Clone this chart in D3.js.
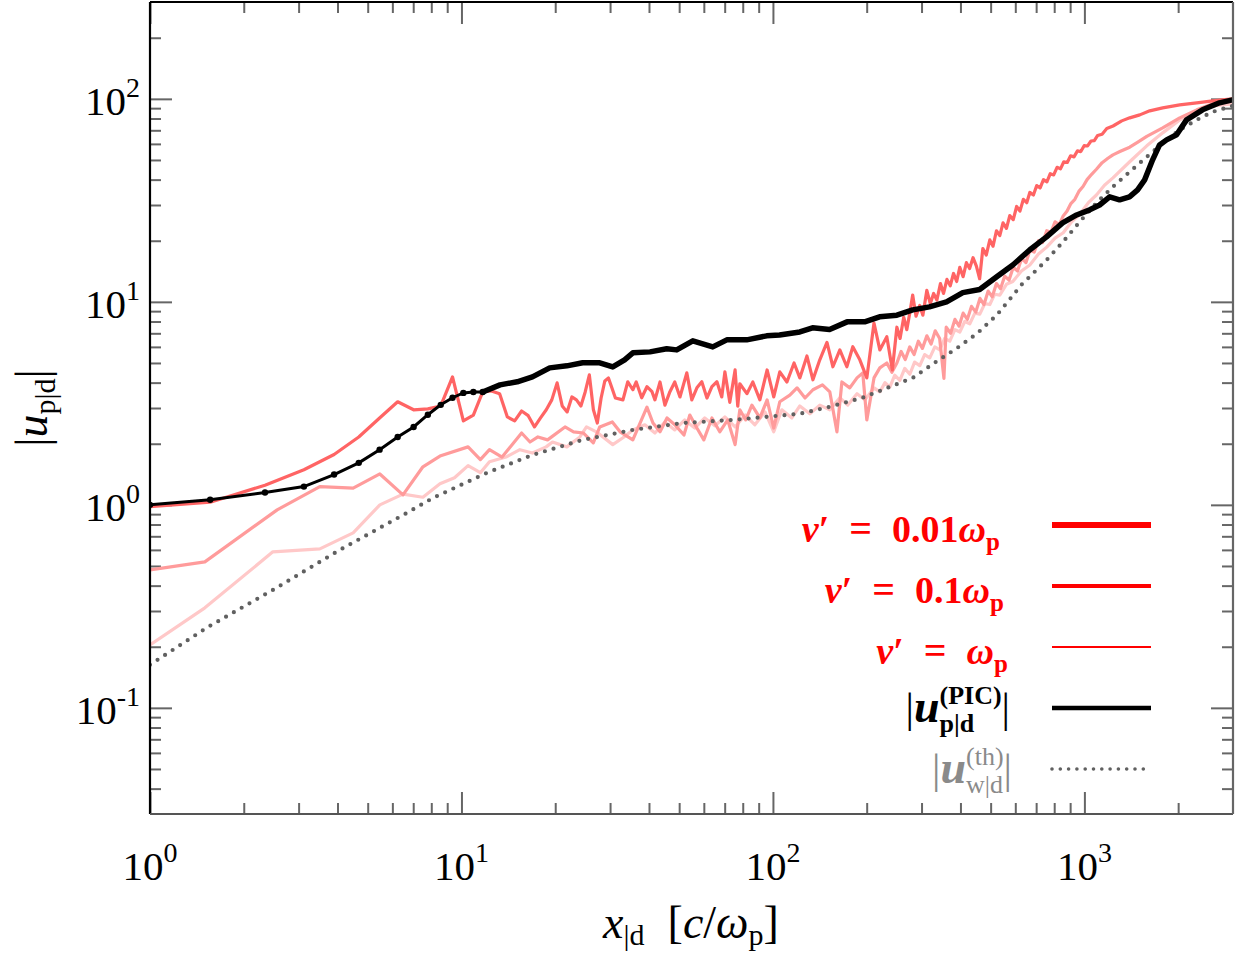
<!DOCTYPE html>
<html>
<head>
<meta charset="utf-8">
<script src="https://cdn.jsdelivr.net/npm/d3@7"></script>
<style>
  body { margin: 0; background: #fff; }
  text { font-family: "Liberation Serif", "DejaVu Serif", serif; }
</style>
</head>
<body>
<script>
// ---- data ----
// PIC particle velocity |u_p|d|
var pic_x = [1, 1.56, 2.34, 3.12, 3.9, 4.68, 5.46, 6.24, 7.02, 7.8, 8.58, 9.36, 10.14, 10.92, 11.7,
  13.3, 15.1, 16.9, 19.2, 21.8, 24.5, 27.8, 30.6, 33.4, 35.5, 40.3, 45.6, 49.1, 55.3, 64.1, 71.1, 82.4, 95.5,
  105, 122, 134, 152, 173, 197, 220, 250, 281, 318, 361, 407, 461, 523, 589, 667, 756, 851, 944, 1040,
  1119, 1205, 1297, 1396, 1482, 1561, 1656, 1743, 1836, 1977, 2128, 2395, 2716, 2990];
var pic_y = [1.0, 1.06, 1.15, 1.23, 1.41, 1.61, 1.87, 2.16, 2.42, 2.78, 3.11, 3.37, 3.56, 3.6, 3.6,
  3.90, 4.04, 4.27, 4.73, 4.84, 5.01, 5.01, 4.78, 5.18, 5.61, 5.67, 5.87, 5.80, 6.43, 6.00, 6.50, 6.50, 6.80,
  6.87, 7.11, 7.45, 7.3, 7.97, 7.97, 8.44, 8.6, 9.13, 9.45, 10.0, 11.1, 11.5, 13.3, 15.2, 18.0, 20.9, 24.5, 26.8, 28.4,
  30.0, 32.9, 31.8, 32.9, 35.6, 39.9, 50.1, 59.3, 62.8, 66.5, 78.8, 88.3, 95.6, 98.9];

// theory |u_w|d^(th)|
var th_x = [1, 1.52, 2.48, 4.07, 6.68, 8.09, 12.1, 16.9, 24.5, 35.5, 51.4, 74.3, 122, 152, 194, 237, 281,
  336, 389, 453, 523, 576, 630, 700, 757, 855, 966, 1093, 1235, 1398, 1586, 1784, 2023, 2295, 2583, 2990];
var th_y = [0.163, 0.248, 0.381, 0.600, 0.913, 1.08, 1.44, 1.76, 2.09, 2.34, 2.53, 2.62, 2.81, 3.04, 3.37, 3.81, 4.22,
  5.1, 5.9, 7.0, 8.6, 10.3, 12.2, 14.3, 16.1, 19.8, 24.8, 30.7, 36.9, 43.7, 51.8, 60.4, 70.3, 78.8, 86.3, 92.4];

// nu' = 0.01 omega_p
var nu001_x = [1, 1.56, 2.34, 3.12, 3.9, 4.68, 5.46, 6.24, 7.02, 7.8, 8.58, 9.36, 10.14, 10.92, 11.7, 12.48, 13.26,
  14.04, 14.82, 15.6, 16.38, 17.16, 17.94, 18.72, 19.5, 20.28, 21.06, 21.84, 22.62, 23.4, 24.18, 24.96, 25.74,
  26.52, 27.3, 28.08, 28.86, 29.64, 30.42, 31.2, 33.0, 34.2, 35.5, 36.4, 37.9, 39.4, 40.9, 41.8, 43.4, 45.0,
  46.7, 48.4, 50.3, 52.9, 54.9, 57.0, 59.1, 61.4, 63.7, 66.1, 68.5, 70.1, 72.7, 75.6, 77.1, 78.3, 82.5, 86.2,
  90.8, 95.8, 100.6, 105.2, 110.9, 116.9, 122, 128.6, 134.4, 141.4, 149.1, 155.8, 164, 172.7, 180.5, 190.1,
  200.2, 211.1, 220.4, 232.1, 241.8,
  250, 256, 263, 269, 275, 281, 288, 296, 303, 312, 320, 328, 336, 345, 353, 362, 371, 380, 389, 398, 408,
  418, 428, 439, 450, 461, 472, 484, 497, 509, 522, 535, 548, 562, 576, 591, 606, 621, 637, 653, 668, 686,
  703, 721, 739, 758, 777, 797, 817, 838, 859, 881, 903, 926, 950, 974, 998, 1024, 1050, 1076, 1103, 1140,
  1180, 1236, 1318, 1398, 1506, 1621, 1784, 2023, 2295, 2583, 2990];
var nu001_y = [0.98, 1.03, 1.25, 1.49, 1.77, 2.16, 2.68, 3.22, 2.94, 2.97, 3.07, 4.27, 2.59, 2.77, 3.60, 3.64, 3.53,
  2.71, 2.59, 2.90, 2.75, 2.42, 2.68, 2.94, 3.29, 3.99, 3.07, 2.87, 3.40, 3.29, 3.07, 3.60, 4.37,
  2.94, 2.53, 3.36, 4.08, 4.22, 3.76, 3.36, 3.29, 4.04, 3.69, 4.03, 3.37, 3.82, 3.61, 3.29, 4.03, 3.10,
  3.61, 4.03, 3.40, 4.47, 3.29, 3.77, 4.04, 3.36, 3.82, 4.04, 3.40, 4.52, 3.20, 4.62, 3.06, 3.95, 3.53, 4.03,
  3.29, 4.62, 3.40, 4.52, 4.03, 5.0, 4.22, 5.41, 4.13, 5.18, 6.31, 4.79, 5.80, 4.79, 6.01, 5.18,
  4.22, 7.87, 5.80, 6.73, 4.62,
  7.5, 6.6, 8.4, 7.3, 8.8, 10.8, 8.5, 9.6, 8.6, 11.4, 9.8, 11.0, 10.2, 12.3, 11.0, 12.9, 12.0, 13.8, 12.6, 14.8, 13.3,
  15.6, 14.6, 16.5, 15.0, 13.0, 18.3, 17.0, 20.2, 18.8, 22.4, 21.2, 24.5, 23.0, 26.6, 25.4, 29.5, 28.0, 32.0, 30.8, 34.6, 33.6,
  37.4, 36.4, 40.0, 39.0, 42.8, 42.2, 46.0, 45.2, 49.0, 48.6, 52.4, 51.8, 55.4, 55.0, 58.8, 58.6, 62.0, 62.2, 66.0, 67.0,
  71.5, 73.5, 77.9, 80.6, 83.4, 87.3, 90.3, 93.4, 95.6, 97.8, 100];

// nu' = 0.1 omega_p
var nu01_x = [1, 1.50, 2.56, 3.51, 4.49, 5.47, 6.49, 7.52, 8.53, 10.5, 11.5, 12.3, 13.5, 15.6, 16.6, 17.6, 18.9,
  21.5, 22.9, 24.6, 26.5, 27.8, 30.5, 32.3, 35.5, 39.4, 41.2, 43.4, 45.7, 48.4, 51.8, 54.1, 57.0, 60.0, 63.7,
  67.5, 71.6, 75.6, 78.3, 81.8, 85.6, 90.8, 95.8, 100.6, 105.2, 113.3, 119.5, 126.8, 134.4, 144.2, 152.3,
  160.5, 166.5, 176.5, 186.2, 194.3, 200.2, 211.1, 220.4, 232.1, 241,
  250, 258, 266, 275, 284, 293, 302, 312, 322, 332, 343, 354, 360, 372, 384, 396, 408, 421, 434, 448, 462,
  476, 491, 506, 522, 538, 555, 573, 591, 610, 629, 649, 669, 690, 712, 734, 757, 781, 805, 830, 855, 880,
  905, 932, 960, 990, 1020, 1055, 1093, 1140, 1190, 1235, 1300, 1398, 1480, 1586, 1784, 2023, 2295, 2583, 2990];
var nu01_y = [0.478, 0.524, 0.945, 1.23, 1.21, 1.42, 1.12, 1.54, 1.74, 1.93, 1.67, 1.87, 1.72, 2.26, 2.04, 2.16, 2.09,
  2.42, 2.29, 2.26, 2.02, 2.42, 2.56, 2.29, 2.09, 3.03, 2.53, 2.29, 2.68, 2.48, 2.21, 2.77, 2.39, 2.09, 2.68,
  2.29, 2.62, 1.98, 2.94, 2.62, 3.10, 2.68, 3.29, 2.39, 3.22, 3.47, 3.77, 3.36, 3.69, 3.90, 3.60,
  2.29, 4.03, 3.77, 4.22, 4.47, 2.62, 4.22, 4.73, 5.0, 4.5,
  5.0, 5.7, 5.2, 6.0, 5.5, 6.4, 5.9, 6.8, 6.2, 7.2, 6.6, 4.2, 7.5, 7.0, 8.2, 7.6, 8.8, 8.2, 9.5, 8.9, 10.4,
  9.7, 11.3, 10.6, 12.3, 11.6, 13.4, 12.8, 14.8, 14.2, 16.4, 15.6, 18.0, 17.6, 20.0, 19.6, 22.4, 22.0, 24.8, 24.0, 26.5, 28.0,
  30.5, 32.0, 35.0, 37.0, 40.0, 42.5, 45.0, 48.5, 51.0, 53.0, 55.0, 57.8, 61.0, 65.3, 72.0, 80.6, 88.3, 94.5, 97.8];

// nu' = omega_p
var nu1_x = [1, 1.50, 2.48, 3.51, 4.49, 5.47, 6.49, 7.52, 8.53, 9.5, 10.5, 11.5, 12.3, 13.9, 15.4, 16.9, 18.7,
  19.6, 21.8, 24.0, 25.2, 27.1, 30.6, 33.0, 35.5, 38.8, 41.8, 45.0, 48.4, 52.1, 56.1, 60.4, 65.1, 70.1, 75.6,
  81.5, 87.5, 94.3, 100.6, 106.8, 115.0, 122.0, 131.4, 141.4, 152.3, 164.0, 173.9, 186.2, 197.4, 211.1,
  220.4, 229, 237.3, 246, 255.5, 265, 275.1, 285, 296.2, 307, 318.9, 331, 343.4, 356, 369.7, 384, 398.1, 413,
  428.6, 445, 461.5, 479, 496.9, 515, 535, 562, 589, 628, 668, 712, 757, 805, 855, 910, 966, 1030, 1093,
  1160, 1235, 1398, 1586, 1784, 2023, 2295, 2583, 2990];
var nu1_y = [0.204, 0.311, 0.587, 0.607, 0.728, 1.0, 1.13, 1.09, 1.27, 1.36, 1.56, 1.44, 1.63, 1.72, 1.87, 1.80, 1.93,
  2.04, 1.93, 2.16, 2.42, 2.29, 1.98, 2.14, 2.34, 2.48, 2.26, 2.56, 2.34, 2.62, 2.39, 2.68, 2.45, 2.71, 2.42,
  2.77, 2.48, 2.87, 2.29, 2.94, 2.68, 3.07, 2.81, 3.10, 2.94, 3.37, 3.10, 3.53, 3.29, 3.77,
  3.60, 4.0, 3.8, 4.35, 4.1, 4.7, 4.4, 5.05, 4.85, 5.5, 5.3, 6.0, 5.8, 6.6, 6.4, 7.3, 7.1, 8.0,
  7.8, 8.8, 8.7, 9.8, 9.7, 10.9, 10.8, 12.2, 12.6, 14.2, 15.2, 17.2, 18.6, 20.6, 21.9, 24.8, 27.0, 30.8, 33.6,
  37.5, 40.8, 49.0, 58.7, 68.0, 78.8, 86.3, 92.4, 94.5];

var xMajor = [1, 10, 100, 1000];
var xMinor = [2, 3, 4, 5, 6, 7, 8, 9, 20, 30, 40, 50, 60, 70, 80, 90, 200, 300, 400, 500, 600, 700, 800, 900, 2000];
var yMajor = [0.1, 1, 10, 100];
var yMinor = [0.04, 0.05, 0.06, 0.07, 0.08, 0.09, 0.2, 0.3, 0.4, 0.5, 0.6, 0.7, 0.8, 0.9,
  2, 3, 4, 5, 6, 7, 8, 9, 20, 30, 40, 50, 60, 70, 80, 90, 200];

// ---- layout ----
var svgWidth = 1236, svgHeight = 957;
var plot = { left: 150, right: 1233, top: 2, bottom: 814 };

var svg = d3.select("body").append("svg")
  .attr("width", svgWidth)
  .attr("height", svgHeight);

var x = d3.scaleLog().domain([1, 3000]).range([plot.left, plot.right]);
var y = d3.scaleLog().domain([0.03, 300]).range([plot.bottom, plot.top]);

// small helper: lays out pieces of "math" text left to right, measuring each one
function mathText(parent, pieces, px, py, anchor, color) {
  var g = parent.append("g");
  var cx = 0, pending = 0;
  pieces.forEach(function (p) {
    var t = g.append("text")
      .attr("x", cx)
      .attr("y", p.dy || 0)
      .attr("font-size", p.size)
      .attr("font-style", p.italic ? "italic" : "normal")
      .attr("font-weight", p.bold ? "bold" : "normal")
      .attr("fill", p.color || color)
      .text(p.t);
    var w = t.node().getComputedTextLength();
    if (p.stack) { pending = w; }
    else { cx += Math.max(w, pending); pending = 0; }
  });
  var shift = anchor === "end" ? -cx : anchor === "middle" ? -cx / 2 : 0;
  g.attr("transform", "translate(" + (px + shift) + "," + py + ")");
  return g;
}

// ---- ticks (inward, on all four sides) ----
function tickGroup(axis, tx, ty) {
  var g = svg.append("g").attr("transform", "translate(" + tx + "," + ty + ")").call(axis);
  g.select(".domain").remove();
  g.selectAll("line").attr("stroke", "#666").attr("stroke-width", 2);
  g.selectAll("text").remove();
}
var majLen = 22, minLen = 11;
tickGroup(d3.axisBottom(x).tickValues(xMajor).tickSize(-majLen), 0, plot.bottom);
tickGroup(d3.axisBottom(x).tickValues(xMinor).tickSize(-minLen), 0, plot.bottom);
tickGroup(d3.axisTop(x).tickValues(xMajor).tickSize(-majLen), 0, plot.top);
tickGroup(d3.axisTop(x).tickValues(xMinor).tickSize(-minLen), 0, plot.top);
tickGroup(d3.axisLeft(y).tickValues(yMajor).tickSize(-majLen), plot.left, 0);
tickGroup(d3.axisLeft(y).tickValues(yMinor).tickSize(-minLen), plot.left, 0);
tickGroup(d3.axisRight(y).tickValues(yMajor).tickSize(-majLen), plot.right, 0);
tickGroup(d3.axisRight(y).tickValues(yMinor).tickSize(-minLen), plot.right, 0);

// tick labels 10^k
xMajor.forEach(function (v) {
  mathText(svg, [{ t: "10", size: 41 }, { t: String(Math.round(Math.log10(v))), size: 28, dy: -18 }],
    x(v), plot.bottom + 66, "middle", "#000");
});
yMajor.forEach(function (v) {
  mathText(svg, [{ t: "10", size: 41 }, { t: String(Math.round(Math.log10(v))), size: 28, dy: -18 }],
    140, y(v) + 16, "end", "#000");
});

// ---- data lines ----
svg.append("clipPath").attr("id", "clip").append("rect")
  .attr("x", plot.left).attr("y", plot.top)
  .attr("width", plot.right - plot.left).attr("height", plot.bottom - plot.top);

var chartGroup = svg.append("g").attr("clip-path", "url(#clip)");
var line = d3.line().x(function (d) { return x(d[0]); }).y(function (d) { return y(d[1]); });
function zip(a, b) { return a.map(function (v, i) { return [v, b[i]]; }); }

chartGroup.append("path").datum(zip(nu1_x, nu1_y))
  .attr("d", line).attr("fill", "none").attr("stroke", "#ffc8c8").attr("stroke-width", 3.2)
  .attr("stroke-linejoin", "round");
chartGroup.append("path").datum(zip(nu01_x, nu01_y))
  .attr("d", line).attr("fill", "none").attr("stroke", "#ff9b9b").attr("stroke-width", 3.2)
  .attr("stroke-linejoin", "round");
chartGroup.append("path").datum(zip(nu001_x, nu001_y))
  .attr("d", line).attr("fill", "none").attr("stroke", "#ff6464").attr("stroke-width", 3.2)
  .attr("stroke-linejoin", "round");
chartGroup.append("path").datum(zip(th_x, th_y))
  .attr("d", line).attr("fill", "none").attr("stroke", "#606060").attr("stroke-width", 4.2)
  .attr("stroke-linecap", "round").attr("stroke-dasharray", "0 9");

var pic = zip(pic_x, pic_y);
chartGroup.append("path").datum(pic.filter(function (d) { return d[0] <= 11.7; }))
  .attr("d", line).attr("fill", "none").attr("stroke", "#000").attr("stroke-width", 3);
chartGroup.append("path").datum(pic.filter(function (d) { return d[0] >= 11.7; }))
  .attr("d", line).attr("fill", "none").attr("stroke", "#000").attr("stroke-width", 5.5)
  .attr("stroke-linejoin", "round");
chartGroup.selectAll(".picDot")
  .data(pic.filter(function (d) { return d[0] <= 11.7; }))
  .enter().append("circle")
  .attr("class", "picDot")
  .attr("cx", function (d) { return x(d[0]); })
  .attr("cy", function (d) { return y(d[1]); })
  .attr("r", 3.2)
  .attr("fill", "#000");

// ---- frame ----
svg.append("line").attr("x1", plot.left).attr("x2", plot.left).attr("y1", plot.top).attr("y2", plot.bottom)
  .attr("stroke", "#000").attr("stroke-width", 2.2);
svg.append("line").attr("x1", plot.left).attr("x2", plot.right).attr("y1", plot.top).attr("y2", plot.top)
  .attr("stroke", "#000").attr("stroke-width", 2.2);
svg.append("line").attr("x1", plot.left).attr("x2", plot.right).attr("y1", plot.bottom).attr("y2", plot.bottom)
  .attr("stroke", "#555").attr("stroke-width", 2.2);
svg.append("line").attr("x1", plot.right).attr("x2", plot.right).attr("y1", plot.top).attr("y2", plot.bottom)
  .attr("stroke", "#666").attr("stroke-width", 2.2);

// ---- axis labels ----
mathText(svg, [
  { t: "x", size: 46, italic: true }, { t: "|d", size: 30, dy: 7 }, { t: "\u2002[", size: 46 },
  { t: "c", size: 46, italic: true }, { t: "/", size: 46 }, { t: "\u03c9", size: 46, italic: true },
  { t: "p", size: 30, dy: 7 }, { t: "]", size: 46 }
], 691, 938, "middle", "#000");

var yl = svg.append("g").attr("transform", "translate(47,408) rotate(-90)");
mathText(yl, [
  { t: "|", size: 46 }, { t: "u", size: 46, italic: true }, { t: "p|d", size: 30, dy: 8 }, { t: "|", size: 46 }
], 0, 0, "middle", "#000");

// ---- legend ----
var legendRows = [
  { y: 525, stroke: "#ff0000", width: 6, dash: null },
  { y: 586, stroke: "#ff0000", width: 4, dash: null },
  { y: 647, stroke: "#ff0000", width: 2, dash: null },
  { y: 708, stroke: "#000", width: 4.5, dash: null },
  { y: 769, stroke: "#606060", width: 3.6, dash: "0 8.3" }
];
legendRows.forEach(function (r) {
  svg.append("line").attr("x1", 1052).attr("x2", 1151).attr("y1", r.y).attr("y2", r.y)
    .attr("stroke", r.stroke).attr("stroke-width", r.width)
    .attr("stroke-linecap", r.dash ? "round" : "butt")
    .attr("stroke-dasharray", r.dash);
});
var eq = "\u2002=\u2002";
mathText(svg, [
  { t: "\u03bd", size: 38, italic: true, bold: true }, { t: "\u2032", size: 38, bold: true },
  { t: eq, size: 40, bold: true }, { t: "0.01", size: 38, bold: true },
  { t: "\u03c9", size: 38, italic: true, bold: true }, { t: "p", size: 25, bold: true, dy: 8 }
], 1000, 542, "end", "#ff0000");
mathText(svg, [
  { t: "\u03bd", size: 38, italic: true, bold: true }, { t: "\u2032", size: 38, bold: true },
  { t: eq, size: 40, bold: true }, { t: "0.1", size: 38, bold: true },
  { t: "\u03c9", size: 38, italic: true, bold: true }, { t: "p", size: 25, bold: true, dy: 8 }
], 1004, 603, "end", "#ff0000");
mathText(svg, [
  { t: "\u03bd", size: 38, italic: true, bold: true }, { t: "\u2032", size: 38, bold: true },
  { t: eq, size: 40, bold: true },
  { t: "\u03c9", size: 38, italic: true, bold: true }, { t: "p", size: 25, bold: true, dy: 8 }
], 1008, 664, "end", "#ff0000");
mathText(svg, [
  { t: "|", size: 42 }, { t: "u", size: 46, italic: true, bold: true },
  { t: "(PIC)", size: 26, bold: true, dy: -18, stack: true }, { t: "p|d", size: 26, bold: true, dy: 10 },
  { t: "|", size: 42 }
], 1010, 722, "end", "#000");
mathText(svg, [
  { t: "|", size: 42 }, { t: "u", size: 46, italic: true, bold: true },
  { t: "(th)", size: 26, dy: -18, stack: true }, { t: "w|d", size: 26, dy: 10 },
  { t: "|", size: 42 }
], 1012, 783, "end", "#8a8a8a");
</script>
</body>
</html>
